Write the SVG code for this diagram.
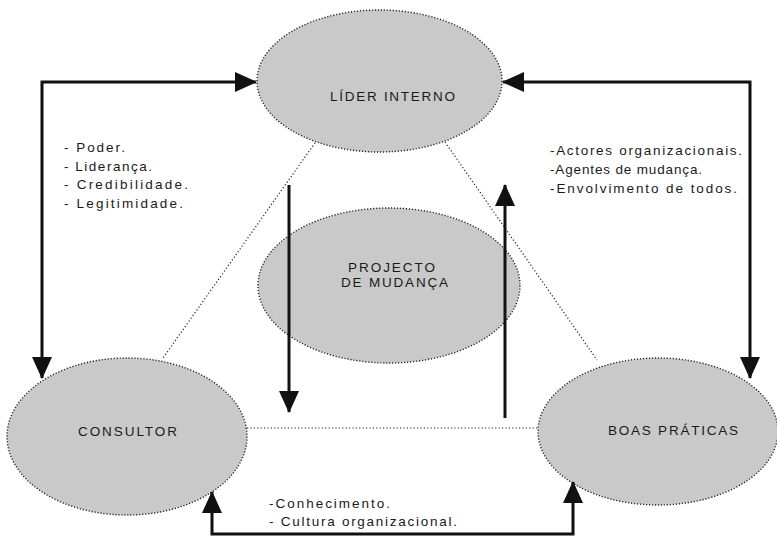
<svg xmlns="http://www.w3.org/2000/svg" width="777" height="536" viewBox="0 0 777 536">
<style>
.node{fill:#c9c9c9;stroke:#222;stroke-width:1.4;stroke-dasharray:1.2 1.8}
.dot{fill:none;stroke:#222;stroke-width:1.2;stroke-dasharray:1.2 2.2}
.arr{fill:none;stroke:#111;stroke-width:3}
text{font-family:"Liberation Sans",Arial,sans-serif;font-size:13.5px;fill:#1a1a1a}
</style>
<defs>
<marker id="ah" markerUnits="userSpaceOnUse" markerWidth="22" markerHeight="20" viewBox="0 0 22 20" refX="21" refY="10" orient="auto-start-reverse">
<path d="M0,0 L22,10 L0,20 z" fill="#111"/>
</marker>
</defs>
<rect width="777" height="536" fill="#fff"/>
<g id="connectors">
<line class="dot" x1="317" y1="140" x2="163" y2="358"/>
<line class="dot" x1="445" y1="142" x2="597" y2="360"/>
<line class="dot" x1="247" y1="428" x2="538" y2="428"/>
</g>
<g id="lider">
<ellipse class="node" cx="379.5" cy="81" rx="122.5" ry="71"/>
<text x="330" y="101" textLength="125" lengthAdjust="spacing">LÍDER INTERNO</text>
</g>
<g id="projecto">
<ellipse class="node" cx="389" cy="285.5" rx="131" ry="77.5"/>
<text x="348" y="272" textLength="87" lengthAdjust="spacing">PROJECTO</text>
<text x="341" y="287" textLength="107" lengthAdjust="spacing">DE MUDANÇA</text>
</g>
<g id="consultor">
<ellipse class="node" cx="127" cy="436.5" rx="120" ry="78.5"/>
<text x="78" y="436" textLength="99" lengthAdjust="spacing">CONSULTOR</text>
</g>
<g id="boas">
<ellipse class="node" cx="658" cy="431.5" rx="120" ry="73.5"/>
<text x="608" y="435" textLength="130" lengthAdjust="spacing">BOAS PRÁTICAS</text>
</g>
<g id="arrows">
<path class="arr" d="M42,378 V82 H256" marker-start="url(#ah)" marker-end="url(#ah)"/>
<path class="arr" d="M750,378 V82 H503" marker-start="url(#ah)" marker-end="url(#ah)"/>
<path class="arr" d="M212,492 V534 H573 V482" marker-start="url(#ah)" marker-end="url(#ah)"/>
<path class="arr" d="M289,185 V412" marker-end="url(#ah)"/>
<path class="arr" d="M505,418 V185" marker-end="url(#ah)"/>
</g>
<g id="labels">
<text x="64" y="152" textLength="61" lengthAdjust="spacing">- Poder.</text>
<text x="64" y="171" textLength="88" lengthAdjust="spacing">- Liderança.</text>
<text x="64" y="189" textLength="124" lengthAdjust="spacing">- Credibilidade.</text>
<text x="64" y="208" textLength="119" lengthAdjust="spacing">- Legitimidade.</text>
<text x="550" y="155" textLength="192" lengthAdjust="spacing">-Actores organizacionais.</text>
<text x="550" y="174" textLength="152" lengthAdjust="spacing">-Agentes de mudança.</text>
<text x="550" y="193" textLength="187" lengthAdjust="spacing">-Envolvimento de todos.</text>
<text x="269" y="508" textLength="121" lengthAdjust="spacing">-Conhecimento.</text>
<text x="269" y="526" textLength="188" lengthAdjust="spacing">- Cultura organizacional.</text>
</g>
</svg>
